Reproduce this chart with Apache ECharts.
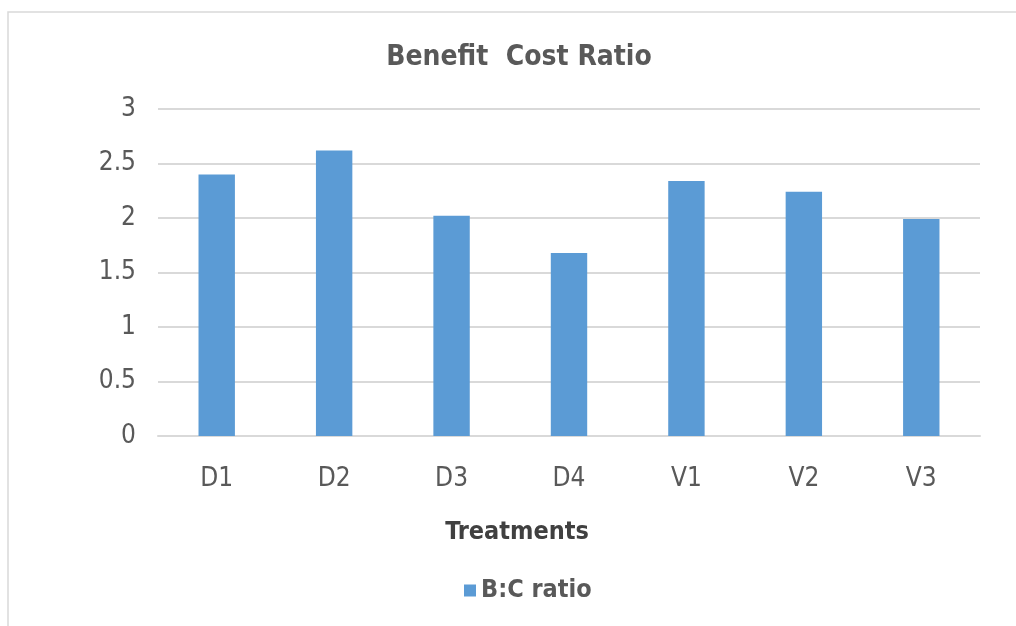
<!DOCTYPE html>
<html>
<head>
<meta charset="utf-8">
<script src="https://cdn.jsdelivr.net/npm/echarts@6/dist/echarts.min.js"></script>
<style>
  html, body { margin: 0; padding: 0; background: #ffffff; }
  #chart { width: 1016px; height: 626px; }
</style>
</head>
<body>
<div id="chart"></div>
<script>
// Benefit-cost ratio per treatment
const treatments = ['D1', 'D2', 'D3', 'D4', 'V1', 'V2', 'V3'];
const bcRatio = [2.40, 2.62, 2.02, 1.68, 2.34, 2.24, 1.99];
const yTicks = [0, 0.5, 1, 1.5, 2, 2.5, 3];
const xAxisTitle = 'Treatments';

const FONT = '"Liberation Sans Narrow", "DejaVu Sans Condensed", "Liberation Sans", sans-serif';
const chart = echarts.init(document.getElementById('chart'), null, { renderer: 'canvas' });

chart.setOption({
  animation: false,
  backgroundColor: '#ffffff',
  graphic: [{
    type: 'rect',
    shape: { x: 8, y: 12, width: 1020, height: 630 },
    style: { fill: 'none', stroke: '#d9d9d9', lineWidth: 1.5 },
    silent: true
  }, {
    // category axis title, centred on the whole chart area
    type: 'text',
    x: 517,
    y: 532,
    style: {
      text: xAxisTitle,
      align: 'center',
      verticalAlign: 'middle',
      fontFamily: FONT,
      fontSize: 25,
      fontWeight: 'bold',
      fill: '#404040'
    },
    silent: true
  }],
  title: {
    text: 'Benefit  Cost Ratio',
    left: 514,
    textAlign: 'center',
    top: 39,
    textStyle: { fontFamily: FONT, fontSize: 28, fontWeight: 'bold', color: '#595959' }
  },
  legend: {
    bottom: 18,
    left: 459,
    itemWidth: 12,
    itemHeight: 12,
    itemGap: 6,
    icon: 'rect',
    textStyle: { fontFamily: FONT, fontSize: 25, fontWeight: 'bold', color: '#595959' },
    data: ['B:C ratio']
  },
  grid: { left: 158, right: 36, top: 109, bottom: 190 },
  xAxis: {
    type: 'category',
    data: treatments,
    axisLine: { show: true, lineStyle: { color: '#d9d9d9', width: 2 } },
    axisTick: { show: false },
    axisLabel: { margin: 30, fontFamily: FONT, fontSize: 26, color: '#595959' }
  },
  yAxis: {
    type: 'value',
    min: yTicks[0],
    max: yTicks[yTicks.length - 1],
    interval: 0.5,
    axisLine: { show: false },
    axisTick: { show: false },
    axisLabel: { margin: 22, fontFamily: FONT, fontSize: 26, color: '#595959' },
    splitLine: { lineStyle: { color: '#d9d9d9', width: 2 } }
  },
  series: [{
    name: 'B:C ratio',
    type: 'bar',
    data: bcRatio,
    barWidth: '31%',
    itemStyle: { color: '#5b9bd5' }
  }]
});
</script>
</body>
</html>
